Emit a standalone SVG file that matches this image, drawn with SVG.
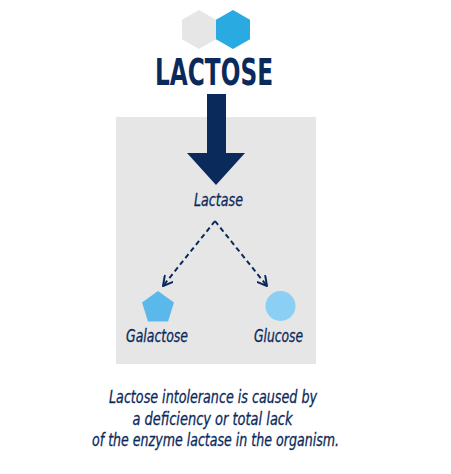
<svg xmlns="http://www.w3.org/2000/svg" width="451" height="474" viewBox="0 0 451 474">
<defs>
<style>
.t{font-family:"Liberation Sans Narrow","DejaVu Sans Condensed","Liberation Sans",sans-serif;fill:#0b2a5c;font-style:italic;font-size:18px;stroke:#0b2a5c;stroke-width:0.3}
.title{font-family:"Liberation Sans Narrow","DejaVu Sans Condensed","Liberation Sans",sans-serif;fill:#0b2a5c;font-weight:bold}
.dash{stroke:#0b2a5c;stroke-width:2;stroke-dasharray:5,3.5;fill:none}
.head{stroke:#0b2a5c;stroke-width:2;fill:none;stroke-linecap:round;stroke-linejoin:round}
</style>
<marker id="open" viewBox="0 0 12 12" refX="10" refY="6" markerWidth="12" markerHeight="12" markerUnits="userSpaceOnUse" orient="auto">
<path class="head" d="M1,1 L10,6 L1,11"/>
</marker>
</defs>
<rect width="451" height="474" fill="#ffffff"/>
<g id="hexagons">
<polygon points="199,10 216,19.75 216,39.25 199,49 182,39.25 182,19.75" fill="#e6e6e6"/>
<polygon points="233,10 250,19.75 250,39.25 233,49 216,39.25 216,19.75" fill="#29abe2"/>
</g>
<g id="lactose">
<text class="title" x="214" y="85" font-size="37" text-anchor="middle" textLength="118" lengthAdjust="spacingAndGlyphs">LACTOSE</text>
</g>
<g id="panel">
<rect x="116" y="117" width="200" height="247" fill="#e6e6e6"/>
</g>
<g id="connectors">
<polygon points="207,94 226,94 226,153 245,153 216,185 187,153 207,153" fill="#0b2a5c"/>
<path class="dash" d="M215,221 L163,286" marker-end="url(#open)"/>
<path class="dash" d="M215,221 L267,286" marker-end="url(#open)"/>
</g>
<g id="lactase">
<text class="t" x="218.5" y="206" text-anchor="middle" textLength="49" lengthAdjust="spacingAndGlyphs">Lactase</text>
</g>
<g id="galactose">
<polygon points="158,291 174,302.6 168,321.5 148,321.5 142,302.6" fill="#5bb8ea"/>
<text class="t" x="157" y="342" text-anchor="middle" textLength="62" lengthAdjust="spacingAndGlyphs">Galactose</text>
</g>
<g id="glucose">
<circle cx="280.5" cy="306" r="15" fill="#8bcff5"/>
<text class="t" x="278.5" y="342" text-anchor="middle" textLength="49" lengthAdjust="spacingAndGlyphs">Glucose</text>
</g>
<g id="caption">
<text class="t" x="213" y="403" text-anchor="middle" textLength="208" lengthAdjust="spacingAndGlyphs">Lactose intolerance is caused by</text>
<text class="t" x="212.5" y="425" text-anchor="middle" textLength="160" lengthAdjust="spacingAndGlyphs">a deficiency or total lack</text>
<text class="t" x="215.5" y="446" text-anchor="middle" textLength="247" lengthAdjust="spacingAndGlyphs">of the enzyme lactase in the organism.</text>
</g>
</svg>
